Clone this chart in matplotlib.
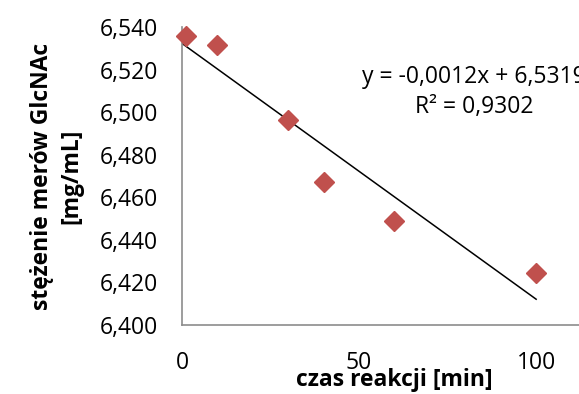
import numpy as np
import matplotlib.pyplot as plt
from matplotlib.ticker import FuncFormatter

# reaction time [min] and GlcNAc oligomer concentration [mg/mL]
czas = [1, 10, 30, 40, 60, 100]
stezenie = [6.5358, 6.5314, 6.4963, 6.4673, 6.4489, 6.4245]
y_ticks = [6.40, 6.42, 6.44, 6.46, 6.48, 6.50, 6.52, 6.54]
x_ticks = [0, 50, 100]
rownanie = 'y = -0,0012x + 6,5319\nR² = 0,9302'

plt.rcParams['font.family'] = ['Open Sans', 'DejaVu Sans']
fs = 16.5

fig = plt.figure(figsize=(5.79, 3.94), dpi=100)
ax = fig.add_axes([0.3143, 0.1751, 0.734, 0.7563])

x = np.array(czas)
y = np.array(stezenie)
a, b = np.polyfit(x, y, 1)
xl = np.array([0, 100])
ax.plot(xl, a * xl + b, color='black', lw=1.1, zorder=2)
ax.plot(x, y, 'D', color='#C0504D', ms=10.5, mec='#C0504D', zorder=3, clip_on=False)

ax.set_xlim(0, 120)
ax.set_ylim(6.40, 6.54)
ax.set_xticks(x_ticks)
ax.set_yticks(y_ticks)
ax.yaxis.set_major_formatter(FuncFormatter(lambda v, p: ('%.3f' % v).replace('.', ',')))
ax.tick_params(length=0, labelsize=fs)
ax.tick_params(axis='x', pad=19)
ax.tick_params(axis='y', pad=17)

for s in ['top', 'right']:
    ax.spines[s].set_visible(False)
for s in ['left', 'bottom']:
    ax.spines[s].set_color('#8c8c8c')
    ax.spines[s].set_linewidth(1.2)

ax.set_xlabel('czas reakcji [min]', fontsize=fs, fontweight='bold', labelpad=-5)
ax.set_ylabel('stężenie merów GlcNAc\n[mg/mL]', fontsize=fs, fontweight='bold',
              labelpad=12, linespacing=1.3)

ax.text(82.5, 6.5095, rownanie, fontsize=fs, ha='center', va='center', linespacing=1.35)

fig.savefig('out.png', dpi=100)
